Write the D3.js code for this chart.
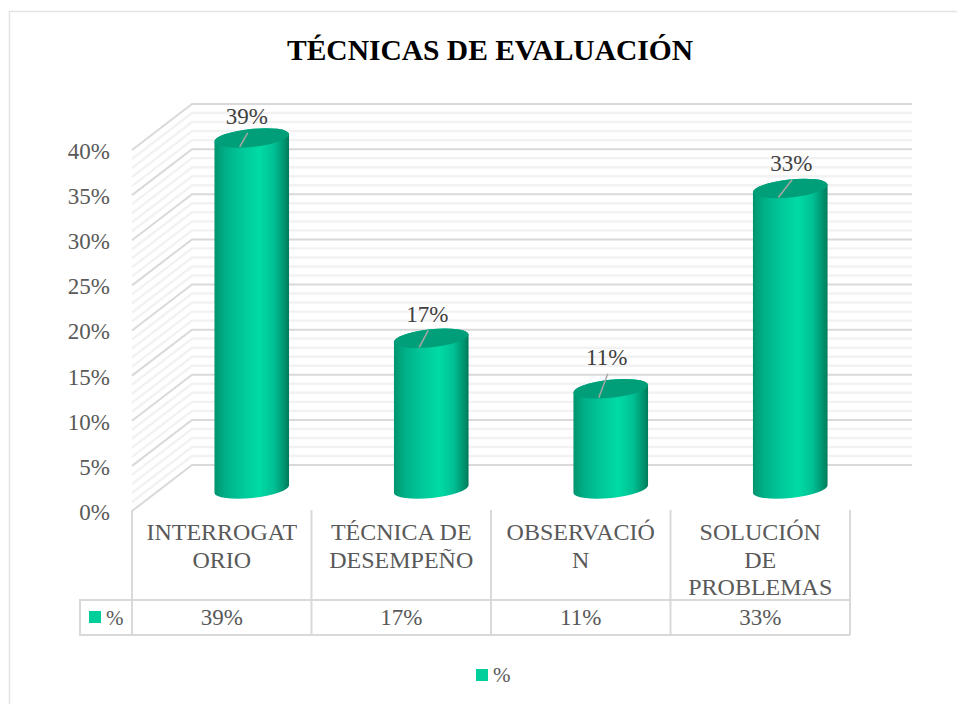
<!DOCTYPE html>
<html><head><meta charset="utf-8">
<script src="https://cdnjs.cloudflare.com/ajax/libs/d3/7.8.5/d3.min.js"></script>
<style>
html,body{margin:0;padding:0;background:#fff}
svg{display:block}
text{font-family:"Liberation Serif",serif;fill:#595959}
</style></head><body>
<svg id="c" width="957" height="704"></svg>
<script>
const title = "TÉCNICAS DE EVALUACIÓN";
const categories = ["INTERROGATORIO","TÉCNICA DE DESEMPEÑO","OBSERVACIÓN","SOLUCIÓN DE PROBLEMAS"];
const categoryLines = [["INTERROGAT","ORIO"],["TÉCNICA DE","DESEMPEÑO"],["OBSERVACIÓ","N"],["SOLUCIÓN","DE","PROBLEMAS"]];
const values = [38.9,16.7,11.1,33.3];
const valueLabels = ["39%","17%","11%","33%"];
const seriesName = "%";
const yTicks = [0,5,10,15,20,25,30,35,40];
const minorTicks = d3.range(0,41).filter(v=>v%5!==0);

// layout
const W=957,H=704, depthX=60, depthY=46, fs=23;
const labelGap=[14,16,24,17], labelShift=[-5,-4,-4,1], leaderEnd=[[-4,-5],[-3,-8],[-3,-15],[2,-9]];
const y=d3.scaleLinear().domain([0,40]).range([465,104]);
const x=d3.scaleBand().domain(categories).range([132,850]);
const svg=d3.select("#c");

// gradient
const defs=svg.append("defs");
const g=defs.append("linearGradient").attr("id","cyl");
[[0,"#01946e"],[.15,"#00b088"],[.35,"#00c598"],[.6,"#00dba5"],[.8,"#00c095"],[.95,"#008e6a"],[1,"#007859"]].forEach(s=>g.append("stop").attr("offset",s[0]).attr("stop-color",s[1]));

// chart frame
svg.append("path").attr("d","M9.5,704V11.5H957").attr("fill","none").attr("stroke","#e2e2e2").attr("stroke-width",1.5);

svg.append("text").attr("x",490).attr("y",60).attr("text-anchor","middle")
  .attr("font-size",29.5).attr("font-weight",700).style("fill","#000").text(title);

// walls
const wall=svg.append("g").attr("fill","none");
function lines(ticks,color,w){
  wall.append("g").selectAll("path").data(ticks).join("path")
    .attr("d",v=>`M${132},${y(v)+depthY}L${132+depthX},${y(v)}H912`)
    .attr("stroke",color).attr("stroke-width",w);
}
lines(minorTicks,"#f2f2f2",2.4);
lines(yTicks,"#d9d9d9",2);

// y axis labels
const ax=svg.append("g").attr("transform",`translate(110,${depthY+1})`)
  .call(d3.axisLeft(y).tickValues(yTicks).tickFormat(d=>d+"%").tickSize(0).tickPadding(0));
ax.select(".domain").remove();
ax.selectAll("text").attr("font-size",fs).attr("font-family","Liberation Serif").style("fill","#595959");

// cylinders
const rx=37.5, ry=9, rot=-6, ca=Math.cos(rot*Math.PI/180), sa=Math.sin(rot*Math.PI/180);
const baseY=y(0)+24;
const cx=d=>x(d)+x.bandwidth()/2+30;
const topY=v=>y(v)+24;
const bars=svg.append("g").selectAll("g").data(categories).join("g");
bars.append("path").attr("fill","url(#cyl)").attr("d",(d,i)=>{
  const c=cx(d),t=topY(values[i]);
  const lx=c-rx*ca, rxx=c+rx*ca, dy=rx*sa;
  return `M${lx},${t-dy}L${lx},${baseY-dy}A${rx},${ry} ${rot} 0 0 ${rxx},${baseY+dy}L${rxx},${t+dy}A${rx},${ry} ${rot} 0 0 ${lx},${t-dy}Z`;
});
bars.append("ellipse").attr("rx",rx).attr("ry",ry).attr("fill","#019f79")
  .attr("transform",(d,i)=>`translate(${cx(d)},${topY(values[i])}) rotate(${rot})`);
bars.append("line").attr("stroke","#a6a6a6").attr("stroke-width",1.5)
  .attr("x1",d=>cx(d)-12).attr("y1",(d,i)=>topY(values[i])+9)
  .attr("x2",(d,i)=>cx(d)+leaderEnd[i][0]).attr("y2",(d,i)=>topY(values[i])+leaderEnd[i][1]);
bars.append("text").attr("text-anchor","middle").attr("font-size",fs).style("fill","#404040")
  .attr("x",(d,i)=>cx(d)+labelShift[i]).attr("y",(d,i)=>topY(values[i])-labelGap[i]).text((d,i)=>valueLabels[i]);

// data table
const tTop=510,tRow=600,tBot=635,tKey=80;
const T=svg.append("g").attr("stroke","#d9d9d9").attr("stroke-width",2).attr("fill","none");
const edges=[...categories.map(d=>x(d)),x.range()[1]];
T.selectAll("line.v").data(edges).join("line").attr("class","v")
  .attr("x1",d=>d).attr("x2",d=>d).attr("y1",tTop).attr("y2",tBot);
T.append("path").attr("d",`M${x.range()[1]},${tRow}H${tKey}V${tBot}H${x.range()[1]}`);

categories.forEach((c,i)=>{
  const t=svg.append("text").attr("text-anchor","middle").attr("font-size",24);
  categoryLines[i].forEach((s,j)=>t.append("tspan").attr("x",x(c)+x.bandwidth()/2).attr("y",540+j*27.5).text(s));
  svg.append("text").attr("text-anchor","middle").attr("font-size",fs)
    .attr("x",x(c)+x.bandwidth()/2).attr("y",625).text(valueLabels[i]);
});
svg.append("rect").attr("x",89).attr("y",611).attr("width",12).attr("height",12).attr("fill","#00cf9c");
svg.append("text").attr("x",106).attr("y",625).attr("font-size",21).text(seriesName);

// legend
svg.append("rect").attr("x",476).attr("y",669).attr("width",12).attr("height",12).attr("fill","#00cf9c");
svg.append("text").attr("x",493).attr("y",682).attr("font-size",21).text(seriesName);
</script>
</body></html>
